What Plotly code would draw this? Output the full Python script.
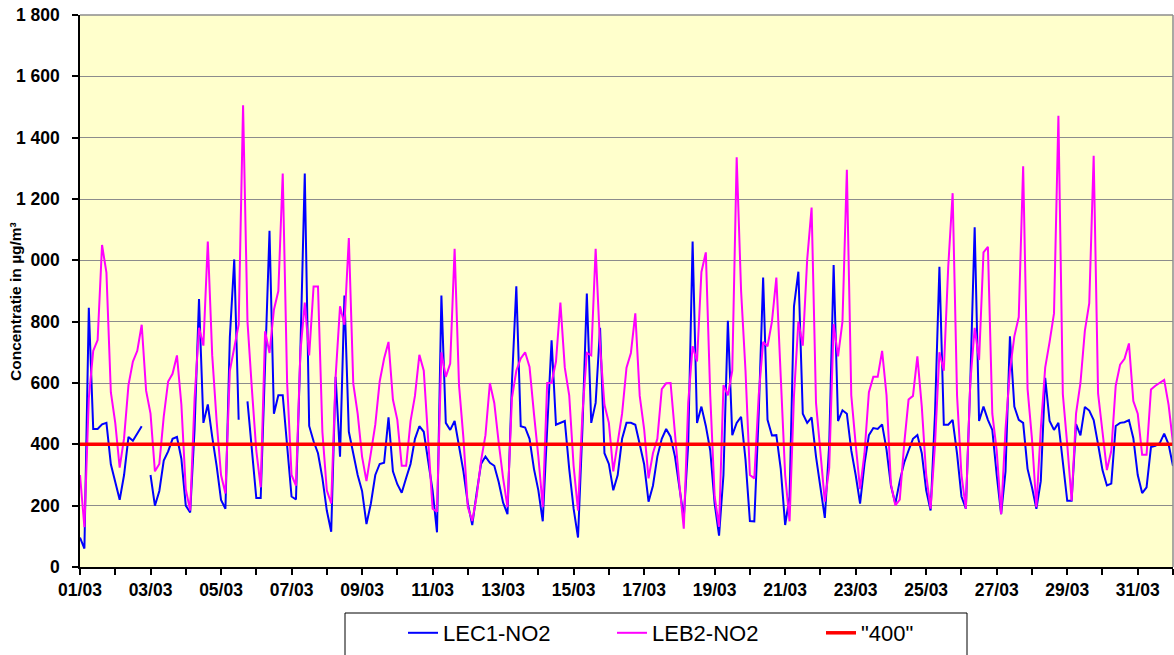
import pandas as pd
import plotly.graph_objects as go

# 3-hourly time grid, 01/03 00:00 .. 01/04 00:00
times = pd.date_range("2009-03-01 00:00", "2009-04-01 00:00", freq="3h")

# LEC1-NO2 (µg/m³), 8 values per day (00,03,...,21h) + final point
lec1 = [
    96, 60, 845, 450, 450, 465, 470, 335,        # 01/03
    277, 219, 300, 424, 412, 435, 459, None,     # 02/03
    300, 200, 248, 347, 377, 418, 424, 353,      # 03/03
    200, 178, 450, 874, 470, 530, 424, 330,      # 04/03
    219, 190, 750, 1003, 480, None, 540, 370,    # 05/03
    225, 225, 650, 1096, 500, 560, 560, 400,     # 06/03
    230, 220, 700, 1283, 460, 410, 371, 290,     # 07/03
    184, 115, 620, 360, 885, 441, 371, 300,      # 08/03
    248, 140, 207, 300, 336, 340, 488, 312,      # 09/03
    270, 242, 290, 336, 418, 459, 441, 340,      # 10/03
    250, 113, 885, 470, 447, 476, 400, 312,      # 11/03
    207, 137, 242, 336, 360, 340, 330, 277,      # 12/03
    210, 172, 600, 915, 459, 455, 418, 320,      # 13/03
    250, 149, 450, 739, 464, 470, 476, 320,      # 14/03
    190, 96, 450, 892, 470, 535, 780, 371,       # 15/03
    336, 250, 300, 418, 470, 470, 464, 400,      # 16/03
    335, 213, 265, 360, 418, 450, 425, 360,      # 17/03
    254, 160, 400, 1061, 470, 523, 460, 380,     # 18/03
    207, 102, 300, 803, 430, 470, 490, 350,      # 19/03
    150, 149, 500, 944, 480, 429, 430, 320,      # 20/03
    137, 230, 850, 963, 500, 470, 488, 360,      # 21/03
    260, 160, 400, 985, 476, 511, 500, 380,      # 22/03
    300, 207, 336, 430, 453, 450, 465, 383,      # 23/03
    265, 207, 280, 340, 380, 418, 430, 371,      # 24/03
    250, 184, 500, 979, 464, 464, 480, 370,      # 25/03
    230, 190, 600, 1108, 476, 523, 480, 447,     # 26/03
    300, 172, 312, 752, 523, 480, 470, 320,      # 27/03
    260, 190, 280, 617, 476, 447, 470, 342,      # 28/03
    216, 216, 466, 429, 522, 510, 479, 400,      # 29/03
    316, 266, 272, 460, 470, 472, 479, 420,      # 30/03
    300, 241, 260, 391, 395, 404, 435, 400,      # 31/03
    329,
]

# LEB2-NO2 (µg/m³)
leb2 = [
    300, 130, 550, 705, 740, 1050, 960, 570,     # 01/03
    470, 324, 420, 593, 670, 705, 790, 575,      # 02/03
    500, 312, 336, 490, 605, 630, 690, 530,      # 03/03
    254, 184, 550, 780, 722, 1061, 690, 476,     # 04/03
    300, 240, 640, 710, 790, 1506, 800, 581,     # 05/03
    380, 260, 769, 698, 839, 900, 1283, 600,     # 06/03
    300, 265, 700, 862, 690, 915, 915, 440,      # 07/03
    250, 207, 620, 850, 790, 1073, 599, 500,     # 08/03
    360, 280, 371, 464, 605, 680, 734, 546,      # 09/03
    480, 330, 330, 476, 558, 692, 640, 418,      # 10/03
    190, 180, 700, 620, 663, 1038, 593, 420,     # 11/03
    195, 150, 230, 347, 430, 600, 535, 406,      # 12/03
    290, 195, 550, 640, 680, 700, 652, 500,      # 13/03
    360, 195, 600, 600, 670, 862, 650, 560,      # 14/03
    330, 184, 500, 698, 690, 1038, 722, 529,     # 15/03
    470, 312, 406, 500, 650, 698, 827, 558,      # 16/03
    450, 289, 371, 418, 580, 599, 600, 429,      # 17/03
    270, 125, 535, 720, 670, 962, 1026, 560,     # 18/03
    230, 131, 593, 560, 640, 1336, 900, 640,     # 19/03
    300, 289, 560, 734, 720, 800, 944, 620,      # 20/03
    300, 149, 558, 800, 722, 1003, 1172, 535,    # 21/03
    380, 213, 324, 792, 687, 800, 1295, 560,     # 22/03
    400, 254, 371, 570, 620, 620, 705, 560,      # 23/03
    270, 201, 220, 400, 546, 558, 687, 523,      # 24/03
    300, 190, 400, 700, 640, 979, 1219, 560,     # 25/03
    300, 190, 600, 780, 675, 1026, 1044, 500,    # 26/03
    380, 172, 450, 640, 752, 815, 1307, 581,     # 27/03
    418, 195, 450, 650, 734, 827, 1471, 564,     # 28/03
    400, 216, 500, 600, 770, 860, 1341, 566,     # 29/03
    441, 316, 379, 591, 660, 679, 729, 541,      # 30/03
    500, 366, 366, 579, 591, 600, 610, 529,      # 31/03
    404,
]

limit_value = 400
series_names = ["LEC1-NO2", "LEB2-NO2", '"400"']
y_tick_values = [0, 200, 400, 600, 800, 1000, 1200, 1400, 1600, 1800]
y_tick_labels = ["0", "200", "400", "600", "800", "000", "1 200", "1 400", "1 600", "1 800"]
y_title = "Concentratie in µg/m³"

W, H = 1174, 655
L, R, T, B = 80, 1, 15, 88
pw = W - L - R
ph = H - T - B


def px_x(px):
    return (px - L) / pw


def px_y(py):
    return (H - B - py) / ph


fig = go.Figure()
fig.add_trace(go.Scatter(x=times, y=lec1, mode="lines", name=series_names[0],
                         line=dict(color="#0000FF", width=2)))
fig.add_trace(go.Scatter(x=times, y=leb2, mode="lines", name=series_names[1],
                         line=dict(color="#FF00FF", width=2)))
fig.add_trace(go.Scatter(x=times, y=[limit_value] * len(times), mode="lines",
                         name=series_names[2], line=dict(color="#FF0000", width=3.5)))

tickfont = dict(family="Arial, Liberation Sans, sans-serif", size=17.5, color="black", weight="bold")
day_ms = 86400000

fig.update_layout(
    width=W, height=H,
    margin=dict(l=L, r=R, t=T, b=B, pad=0, autoexpand=False),
    paper_bgcolor="white",
    plot_bgcolor="#FFFFCC",
    showlegend=True,
    legend=dict(orientation="h", xref="container", yref="container",
                x=403 / W, xanchor="left", y=(H - 612) / H, yanchor="top",
                font=dict(family="Arial, Liberation Sans, sans-serif", size=22, color="black"),
                entrywidth=164, entrywidthmode="pixels", itemwidth=30,
                bgcolor="rgba(0,0,0,0)", borderwidth=0),
    xaxis=dict(type="date", range=[times[0], times[-1]], tick0=times[0], dtick=2 * day_ms,
               tickformat="%d/%m", ticks="outside", ticklen=6, tickcolor="black", tickwidth=1.5,
               showline=True, linecolor="black", linewidth=1.5, showgrid=False, zeroline=False,
               tickfont=tickfont, automargin=False,
               minor=dict(ticks="outside", ticklen=6, dtick=day_ms, tick0=times[0],
                          tickcolor="black", tickwidth=1.5, showgrid=False)),
    yaxis=dict(range=[0, 1800], tickvals=y_tick_values, ticktext=y_tick_labels,
               ticks="outside", ticklen=6, tickcolor="black", tickwidth=1.5,
               showline=True, linecolor="black", linewidth=1.5, ticklabelstandoff=9,
               showgrid=True, gridcolor="#8C8C8C", gridwidth=1, zeroline=False,
               tickfont=tickfont, automargin=False),
)

# y-axis title
fig.add_annotation(text=y_title, xref="paper", yref="paper", x=px_x(15), y=px_y(302),
                   textangle=-90, showarrow=False, xanchor="center", yanchor="middle",
                   font=dict(family="Arial, Liberation Sans, sans-serif", size=15.5,
                             color="black", weight="bold"))

# plot area frame (top / right) and legend box
fig.add_shape(type="line", xref="paper", yref="paper", x0=0, x1=1, y0=1, y1=1,
              line=dict(color="#8C8C8C", width=1.5))
fig.add_shape(type="line", xref="paper", yref="paper", x0=1, x1=1, y0=0, y1=1,
              line=dict(color="#8C8C8C", width=1.5))
fig.add_shape(type="rect", xref="paper", yref="paper", x0=px_x(345), x1=px_x(967),
              y0=px_y(613), y1=px_y(670), line=dict(color="black", width=1),
              fillcolor="white", layer="below")

fig.write_html("out.html", config={"displayModeBar": False},
               post_script="document.body.style.margin='0';")
